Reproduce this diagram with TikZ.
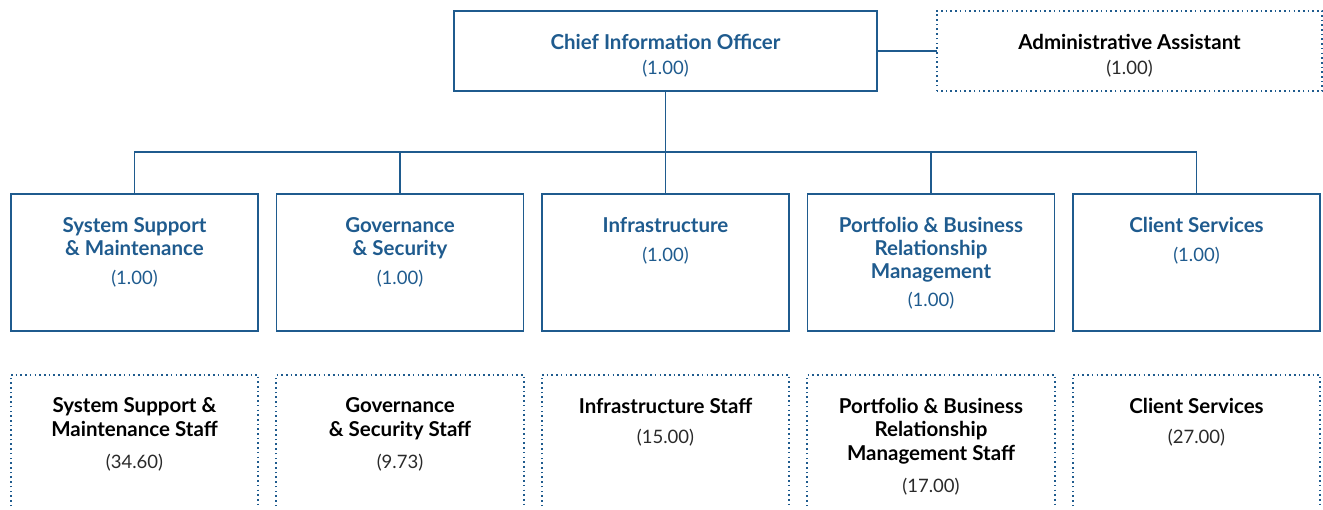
\documentclass[tikz,border=0pt]{standalone}
\usepackage{fontspec}
\setmainfont{Lato}
\definecolor{orgblue}{HTML}{1F5B8E}
\definecolor{numgrey}{HTML}{2A2A2A}
\tikzset{
  orgbox/.style={draw=orgblue,line width=1.6pt,minimum width=#1,minimum height=137pt,inner sep=0pt},
  orgbox/.default=247pt,
  staffarea/.style={minimum width=247pt,minimum height=131pt,inner sep=0pt},
  dotline/.style={draw=orgblue,line width=1.7pt,dash pattern=on 1.6pt off 3.1pt},
  wire/.style={draw=orgblue,line width=1.6pt},
  headtext/.style={align=center,inner sep=0pt,font=\fontsize{20.5}{23}\selectfont\bfseries,text=orgblue},
  stafftext/.style={align=center,inner sep=0pt,font=\fontsize{20.5}{23.5}\selectfont\bfseries,text=black},
  num/.style={inner sep=0pt,font=\fontsize{18.5}{22}\selectfont},
}
\begin{document}
\begin{tikzpicture}[x=1pt,y=-1pt]
\useasboundingbox (0,0) rectangle (1323,510);

% top level
\node[orgbox=423pt,minimum height=80pt] (cio) at (665.5,51) {};
\node[headtext,anchor=base] (ciot) at (665.5,49.5) {Chief Information Officer};
\node[num,anchor=base,text=orgblue] (cion) at (665.5,75) {(1.00)};

\node[minimum width=385pt,minimum height=80pt,inner sep=0pt] (adm) at (1129.5,51) {};
\draw[dotline] (adm.south west) rectangle (adm.north east);
\node[stafftext,anchor=base] (admt) at (1129.5,49.5) {Administrative Assistant};
\node[num,anchor=base,text=numgrey] (admn) at (1129.5,75) {(1.00)};

\draw[wire] (cio.east) -- (adm.west);

% managers
\coordinate (bus) at (0,152);
\foreach \i/\name/\title/\n/\nb in {
  1/ssm/{System Support\\\& Maintenance}/1.00/285,
  2/gov/{Governance\\\& Security}/1.00/285,
  3/inf/{Infrastructure}/1.00/262,
  4/pbr/{Portfolio \& Business\\Relationship\\Management}/1.00/307,
  5/cli/{Client Services}/1.00/262}
{
  \node[orgbox] (\name) at ({134.5+265.5*(\i-1)},262.5) {};
  \node[headtext,anchor=north] (\name t) at ([yshift=-24pt]\name.north) {\title};
  \node[num,anchor=base,text=orgblue] (\name n) at ({134.5+265.5*(\i-1)},\nb) {(\n)};
  \draw[wire] (cio.south |- bus) -| (\name.north);
}
\draw[wire] (cio.south) -- (cio.south |- bus);

% staff
\foreach \i/\name/\title/\n/\nb in {
  1/ssms/{System Support \&\\Maintenance Staff}/34.60/468,
  2/govs/{Governance\\\& Security Staff}/9.73/468,
  3/infs/{Infrastructure Staff}/15.00/444,
  4/pbrs/{Portfolio \& Business\\Relationship\\Management Staff}/17.00/492,
  5/clis/{Client Services}/27.00/444}
{
  \node[staffarea] (\name) at ({134.5+265.5*(\i-1)},440.5) {};
  \draw[dotline] (\name.south west) |- (\name.north east) -- (\name.south east);
  \node[stafftext,anchor=north] (\name t) at ([yshift=-23pt]\name.north) {\title};
  \node[num,anchor=base,text=numgrey] (\name n) at ({134.5+265.5*(\i-1)},\nb) {(\n)};
}
\end{tikzpicture}
\end{document}
